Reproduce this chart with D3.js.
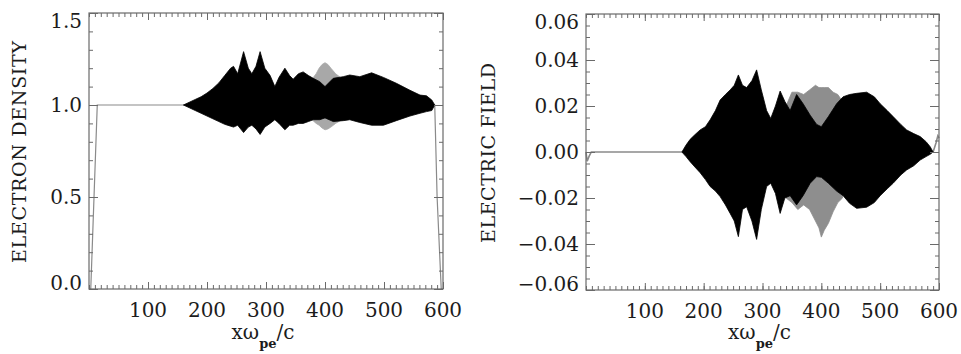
<!DOCTYPE html>
<html>
<head>
<meta charset="utf-8">
<script src="https://cdn.jsdelivr.net/npm/d3@7"></script>
<style>
	body { margin: 0; background: #fff; }
	svg { display: block; }
	text { font-family: "DejaVu Serif", serif; fill: #1c1c1c; }
	.tick line { stroke: #6a6a6a; }
	.domain { display: none; }
</style>
</head>
<body>
<svg id="plot" width="961" height="354"></svg>
<script>

// ---- left panel: electron density ----
// thin profile line (ramp up, plateau, ramp down)
const DENS_LINE_X = [0, 3, 14, 160, 586, 590, 597, 600];
const DENS_LINE_Y = [0, 0, 1.0, 1.0, 1.0, 0.5, 0, 0];

// envelope of the fast oscillation (black)
const DENS_X = [160, 170, 180, 190, 200, 210, 220, 230, 240, 245, 252, 262, 270, 276, 283, 290, 298, 307,
	315, 322, 332, 340, 346, 355, 363, 372, 380, 391, 400, 414, 431, 442, 459, 479, 499, 521, 544, 561,
	572, 581, 586];
const DENS_UP = [1.0, 1.015, 1.03, 1.045, 1.065, 1.09, 1.12, 1.16, 1.2, 1.21, 1.17, 1.29, 1.2, 1.17, 1.21,
	1.29, 1.2, 1.16, 1.1, 1.15, 1.2, 1.16, 1.14, 1.17, 1.18, 1.16, 1.145, 1.127, 1.1, 1.145, 1.154, 1.163,
	1.154, 1.175, 1.15, 1.118, 1.08, 1.054, 1.05, 1.027, 1.0];
const DENS_LO = [1.0, 0.985, 0.97, 0.955, 0.94, 0.925, 0.91, 0.895, 0.885, 0.88, 0.89, 0.85, 0.88, 0.89, 0.87,
	0.84, 0.88, 0.9, 0.92, 0.9, 0.865, 0.89, 0.89, 0.9, 0.9, 0.91, 0.92, 0.92, 0.93, 0.91, 0.915, 0.92,
	0.905, 0.89, 0.89, 0.915, 0.94, 0.955, 0.964, 0.97, 1.0];

// second (grey) curve, only where it shows past the black one
const DENS_GREY_X = [378, 385, 390, 395, 400, 405, 410, 418, 426];
const DENS_GREY_UP = [1.14, 1.17, 1.2, 1.22, 1.23, 1.22, 1.2, 1.17, 1.15];
const DENS_GREY_LO = [0.92, 0.9, 0.89, 0.875, 0.865, 0.87, 0.88, 0.9, 0.915];

// ---- right panel: electric field ----
const FIELD_LINE_X = [0, 2, 5, 9, 163, 590, 595, 598, 600];
const FIELD_LINE_Y = [0, -0.004, -0.002, 0, 0, 0, 0.004, 0.007, 0.006];

const FIELD_X = [163, 170, 177, 185, 194, 203, 211, 220, 228, 237, 245, 252, 259, 266, 273, 282, 290, 298,
	307, 314, 322, 330, 338, 347, 358, 369, 381, 392, 400, 412, 426, 437, 448, 460, 477, 490, 500, 512,
	522, 535, 545, 557, 568, 578, 585, 590];
const FIELD_UP = [0, 0.003, 0.0055, 0.0075, 0.0096, 0.011, 0.014, 0.018, 0.0226, 0.025, 0.027, 0.029, 0.0335,
	0.029, 0.028, 0.031, 0.0357, 0.027, 0.018, 0.0146, 0.02, 0.0265, 0.022, 0.018, 0.025, 0.021, 0.016,
	0.012, 0.011, 0.0154, 0.021, 0.024, 0.025, 0.0255, 0.026, 0.024, 0.021, 0.018, 0.0154, 0.012, 0.0096,
	0.008, 0.0067, 0.0045, 0.0023, 0];
const FIELD_LO = [0, -0.002, -0.0042, -0.0065, -0.009, -0.012, -0.015, -0.017, -0.0194, -0.023, -0.0267, -0.03,
	-0.0368, -0.025, -0.0238, -0.03, -0.038, -0.025, -0.015, -0.0136, -0.018, -0.0267, -0.02, -0.019, -0.023,
	-0.019, -0.0136, -0.0107, -0.011, -0.0136, -0.017, -0.019, -0.0223, -0.0245, -0.024, -0.022, -0.019,
	-0.016, -0.0136, -0.01, -0.0078, -0.006, -0.0035, -0.002, -0.001, 0];

const FIELD_GREY_X = [340, 350, 360, 370, 380, 390, 396, 400, 405, 412, 420, 428, 436];
const FIELD_GREY_UP = [0.02, 0.026, 0.026, 0.025, 0.027, 0.029, 0.028, 0.028, 0.028, 0.028, 0.026, 0.025, 0.022];
const FIELD_GREY_LO = [-0.02, -0.022, -0.025, -0.023, -0.025, -0.03, -0.033, -0.037, -0.034, -0.031, -0.026, -0.022, -0.02];

// ticks
const X_LABELS = [100, 200, 300, 400, 500, 600];
const DENS_TICKS = [0, 0.5, 1.0, 1.5];
const FIELD_TICKS = [-0.06, -0.04, -0.02, 0, 0.02, 0.04, 0.06];


const zip = (xs, a, b) => xs.map((x, i) => ({x: x, up: a[i], lo: b ? b[i] : a[i]}));

function drawPanel(svg, cfg) {
	const x = d3.scaleLinear().domain([0, 600]).range([cfg.left, cfg.right]);
	const y = d3.scaleLinear().domain(cfg.yDomain).range([cfg.bottom, cfg.top]);
	const g = svg.append('g');

	// data
	const line = d3.line().x(d => x(d.x)).y(d => y(d.up));
	const area = d3.area().x(d => x(d.x)).y0(d => y(d.lo)).y1(d => y(d.up));

	g.append('path')
		.attr('d', line(zip(cfg.lineX, cfg.lineY)))
		.attr('fill', 'none')
		.attr('stroke', '#8a8a8a')
		.attr('stroke-width', cfg.lineWidth);

	g.append('path')
		.attr('d', area(zip(cfg.greyX, cfg.greyUp, cfg.greyLo)))
		.attr('fill', cfg.grey)
		.attr('stroke', cfg.grey)
		.attr('stroke-width', 0.8);

	g.append('path')
		.attr('d', area(zip(cfg.envX, cfg.envUp, cfg.envLo)))
		.attr('fill', '#000')
		.attr('stroke', '#000')
		.attr('stroke-width', 0.8);

	// ticks on all four sides, pointing in
	const xMinor = d3.range(0, 601, 10);
	const yMinor = d3.range(cfg.yDomain[0], cfg.yDomain[1] + cfg.yMinor / 2, cfg.yMinor);
	const axes = [
		[d3.axisBottom(x), cfg.bottom, 'x', xMinor, X_LABELS],
		[d3.axisTop(x), cfg.top, 'x', xMinor, X_LABELS],
		[d3.axisLeft(y), cfg.left, 'y', yMinor, cfg.yTicks],
		[d3.axisRight(y), cfg.right, 'y', yMinor, cfg.yTicks]
	];
	axes.forEach(([ax, pos, dir, minor, major]) => {
		const tr = dir === 'x' ? `translate(0,${pos})` : `translate(${pos},0)`;
		g.append('g').attr('transform', tr)
			.call(ax.tickValues(minor).tickSize(-4).tickFormat(''));
		g.append('g').attr('transform', tr)
			.call(ax.tickValues(major).tickSize(dir === 'x' ? -7 : -9).tickFormat(''));
	});

	g.append('rect')
		.attr('x', cfg.left).attr('y', cfg.top)
		.attr('width', cfg.right - cfg.left).attr('height', cfg.bottom - cfg.top)
		.attr('fill', 'none').attr('stroke', '#6a6a6a').attr('stroke-width', 1.2);

	// tick labels
	g.append('g').selectAll('text')
		.data(X_LABELS).enter()
		.append('text')
		.attr('x', d => x(d))
		.attr('y', cfg.bottom + 28)
		.attr('text-anchor', 'middle')
		.attr('font-size', 20)
		.text(d => d);

	g.append('g').selectAll('text')
		.data(cfg.yTicks).enter()
		.append('text')
		.attr('x', cfg.left - 7)
		.attr('y', d => Math.min(cfg.bottom - 6, Math.max(cfg.top + 8, y(d))))
		.attr('dy', '0.36em')
		.attr('text-anchor', 'end')
		.attr('font-size', 20)
		.text(d => d3.format(cfg.fmt)(d));

	// axis titles
	const xt = g.append('text')
		.attr('x', (cfg.left + cfg.right) / 2 - 3)
		.attr('y', 339)
		.attr('text-anchor', 'middle')
		.attr('font-size', 20);
	xt.append('tspan').text('xω');
	xt.append('tspan').attr('dy', 9).attr('font-size', 13).attr('font-weight', 'bold').text('pe');
	xt.append('tspan').attr('dy', -9).text('/c');

	g.append('text')
		.attr('transform', `translate(${cfg.titleX},${(cfg.top + cfg.bottom) / 2 + 1}) rotate(-90)`)
		.attr('text-anchor', 'middle')
		.attr('font-size', 19)
		.attr('textLength', cfg.titleLen)
		.attr('lengthAdjust', 'spacing')
		.text(cfg.title);
}

const svg = d3.select('#plot');

drawPanel(svg, {
	left: 89, right: 443, top: 13, bottom: 289,
	yDomain: [0, 1.5], yMinor: 0.1, yTicks: DENS_TICKS, fmt: '.1f',
	lineX: DENS_LINE_X, lineY: DENS_LINE_Y, lineWidth: 1.2,
	envX: DENS_X, envUp: DENS_UP, envLo: DENS_LO,
	greyX: DENS_GREY_X, greyUp: DENS_GREY_UP, greyLo: DENS_GREY_LO, grey: '#a8a8a8',
	title: 'ELECTRON DENSITY', titleX: 26, titleLen: 222
});

drawPanel(svg, {
	left: 586, right: 939, top: 14, bottom: 290,
	yDomain: [-0.06, 0.06], yMinor: 0.005, yTicks: FIELD_TICKS, fmt: '.2f',
	lineX: FIELD_LINE_X, lineY: FIELD_LINE_Y, lineWidth: 1.6,
	envX: FIELD_X, envUp: FIELD_UP, envLo: FIELD_LO,
	greyX: FIELD_GREY_X, greyUp: FIELD_GREY_UP, greyLo: FIELD_GREY_LO, grey: '#8e8e8e',
	title: 'ELECTRIC FIELD', titleX: 495, titleLen: 180
});

</script>
</body>
</html>
